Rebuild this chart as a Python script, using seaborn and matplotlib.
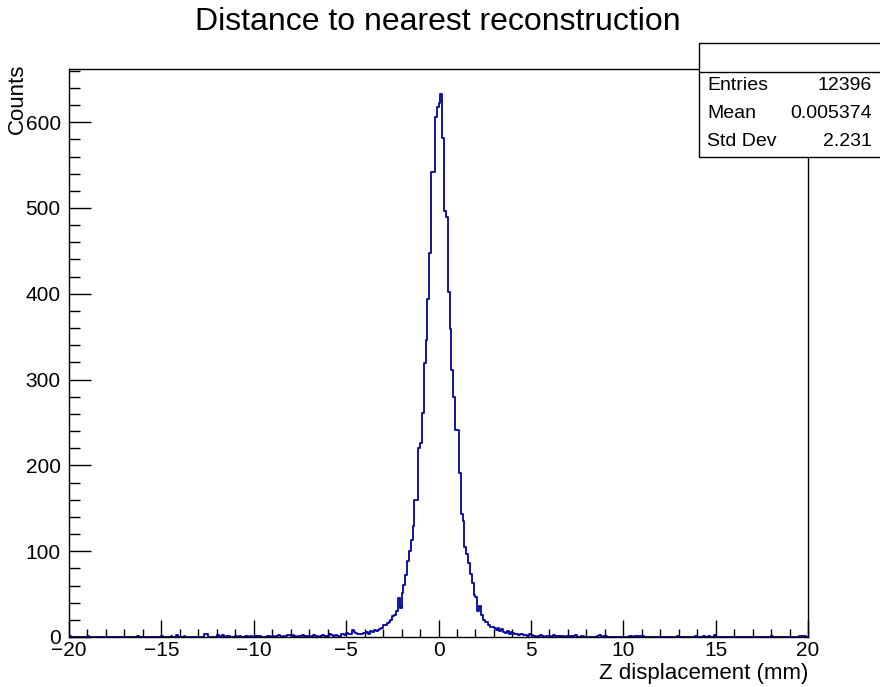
import numpy as np
import pandas as pd
import matplotlib
matplotlib.use("Agg")
import matplotlib.pyplot as plt
from matplotlib.ticker import MultipleLocator
from matplotlib.patches import Rectangle
import seaborn as sns

# ---------------- data (counts per 0.1 mm bin, -20 .. 20 mm) ----------------
left_tail = [  # -20 .. -5
    1, 0, 0, 0, 0, 0, 0, 0, 0, 0,
    1, 0, 0, 0, 0, 0, 0, 0, 0, 0,
    0, 0, 0, 0, 0, 0, 0, 0, 0, 0,
    0, 0, 0, 0, 0, 0, 0, 1, 0, 0,
    0, 0, 0, 0, 0, 0, 0, 0, 0, 0,
    1, 0, 0, 0, 0, 1, 0, 0, 2, 0,
    0, 0, 1, 0, 0, 0, 0, 0, 0, 0,
    0, 0, 0, 3, 3, 0, 0, 0, 0, 0,
    2, 1, 0, 2, 0, 1, 1, 0, 0, 0,
    1, 0, 1, 0, 0, 1, 1, 0, 1, 0,
    1, 0, 1, 1, 0, 0, 0, 1, 1, 0,
    1, 0, 1, 2, 1, 0, 1, 1, 2, 2,
    1, 2, 1, 0, 1, 1, 2, 0, 1, 1,
    1, 0, 2, 1, 1, 0, 1, 2, 1, 1,
    1, 3, 2, 1, 2, 1, 0, 3, 4, 2,
]
left_core = [  # -5 .. 0
    5, 4, 3, 8, 6, 5, 4, 3, 4, 5,
    5, 6, 4, 7, 6, 8, 7, 8, 9, 11,
    14, 14, 16, 18, 20, 24, 26, 30, 45, 34,
    51, 61, 72, 88, 100, 113, 129, 160, 160, 220,
    226, 261, 319, 346, 394, 448, 542, 542, 606, 618,
]
right_core = [  # 0 .. 5
    622, 633, 581, 496, 490, 402, 359, 311, 280, 241,
    241, 191, 143, 135, 105, 97, 86, 74, 63, 49,
    47, 30, 36, 26, 20, 18, 17, 14, 12, 12,
    10, 8, 11, 7, 9, 6, 5, 7, 4, 6,
    5, 3, 4, 2, 3, 4, 2, 2, 1, 3,
]
right_tail = [  # 5 .. 20
    2, 1, 1, 0, 1, 2, 1, 0, 1, 1,
    1, 0, 2, 1, 1, 0, 1, 1, 0, 1,
    1, 1, 0, 1, 2, 0, 0, 1, 1, 0,
    0, 0, 0, 0, 0, 0, 1, 2, 0, 1,
    1, 0, 0, 0, 0, 0, 0, 0, 0, 0,
    0, 0, 0, 1, 1, 0, 1, 1, 1, 1,
    1, 0, 0, 0, 0, 0, 0, 0, 0, 0,
    0, 0, 0, 0, 0, 0, 0, 0, 0, 1,
    0, 0, 0, 0, 0, 0, 0, 0, 0, 1,
    0, 0, 0, 1, 0, 0, 1, 0, 0, 2,
    0, 0, 0, 0, 0, 0, 0, 0, 0, 0,
    0, 0, 0, 0, 0, 0, 0, 0, 0, 0,
    0, 0, 0, 0, 0, 0, 0, 0, 0, 0,
    1, 0, 0, 0, 0, 0, 0, 0, 0, 0,
    0, 0, 0, 0, 0, 1, 1, 1, 1, 0,
]
x_min, x_max, n_bins = -20.0, 20.0, 400
x_ticks = [-20, -15, -10, -5, 0, 5, 10, 15, 20]
y_ticks = [0, 100, 200, 300, 400, 500, 600]
stat_labels = ["Entries", "Mean", "Std Dev"]
stat_values = ["12396", "0.005374", "2.231"]
title = "Distance to nearest reconstruction"
x_label = "Z displacement (mm)"
y_label = "Counts"

counts = np.array(left_tail + left_core + right_core + right_tail, dtype=float)
width = (x_max - x_min) / n_bins
centers = x_min + width * (np.arange(n_bins) + 0.5)
df = pd.DataFrame({"z": centers, "n": counts})

# ---------------- figure ----------------
sns.set_theme(style="white")
plt.rcParams["font.family"] = ["Liberation Sans", "DejaVu Sans"]
plt.rcParams["text.color"] = "black"
plt.rcParams["xtick.color"] = "black"
plt.rcParams["ytick.color"] = "black"
plt.rcParams["xtick.labelcolor"] = "black"
plt.rcParams["ytick.labelcolor"] = "black"

W, H = 880, 687
fig = plt.figure(figsize=(W / 100, H / 100), dpi=100)
fig.patch.set_facecolor("white")
L, R, T, B = 69, 808, 69, 637
ax = fig.add_axes([L / W, 1 - B / H, (R - L) / W, (B - T) / H])
ax.set_facecolor("white")

sns.histplot(data=df, x="z", weights="n", bins=n_bins, binrange=(x_min, x_max),
             element="step", fill=False, color="#0000a0", linewidth=1.3, ax=ax)

ax.set_xlim(x_min, x_max)
ax.set_ylim(0, 662)
ax.set_xticks(x_ticks)
ax.set_yticks(y_ticks)
ax.set_xticklabels([f"{t}".replace("-", "\u2212") for t in x_ticks])
ax.set_yticklabels([str(t) for t in y_ticks])
ax.xaxis.set_minor_locator(MultipleLocator(1))
ax.yaxis.set_minor_locator(MultipleLocator(20))
ax.set_xlabel("")
ax.set_ylabel("")
ax.tick_params(axis="x", which="major", direction="in", length=12, width=1,
               colors="black", labelsize=15, pad=3, top=False, bottom=True)
ax.tick_params(axis="x", which="minor", direction="in", length=6, width=1,
               colors="black", top=False, bottom=True)
ax.tick_params(axis="y", which="major", direction="in", length=16, width=1,
               colors="black", labelsize=15, pad=6, left=True, right=False)
ax.tick_params(axis="y", which="minor", direction="in", length=8, width=1,
               colors="black", left=True, right=False)
for s in ax.spines.values():
    s.set_visible(True)
    s.set_color("black")
    s.set_linewidth(1.0)

fig.text(438 / W, 1 - 22 / H, title, ha="center", va="center", fontsize=23, color="black")
fig.text(R / W, 1 - 673 / H, x_label, ha="right", va="center", fontsize=16, color="black")
fig.text(17 / W, 1 - 64 / H, y_label, ha="center", va="top", rotation=90, fontsize=16,
         color="black")

# stats box
bx0, by0, by1 = 699, 42.7, 157.3
fig.add_artist(Rectangle((bx0 / W, 1 - by1 / H), (W + 10 - bx0) / W, (by1 - by0) / H,
                         transform=fig.transFigure, facecolor="white",
                         edgecolor="black", linewidth=1.0, zorder=5))
fig.add_artist(plt.Line2D([bx0 / W, 1.01], [1 - 71.7 / H, 1 - 71.7 / H],
                          transform=fig.transFigure, color="black", linewidth=1.0, zorder=6))
row_y = [86, 113.5, 141]
for lab, val, yy in zip(stat_labels, stat_values, row_y):
    fig.text(707 / W, 1 - yy / H, lab, ha="left", va="center", fontsize=14, zorder=7,
             color="black")
    fig.text(872 / W, 1 - yy / H, val, ha="right", va="center", fontsize=14, zorder=7,
             color="black")

fig.savefig("out.png", dpi=100, facecolor="white")
